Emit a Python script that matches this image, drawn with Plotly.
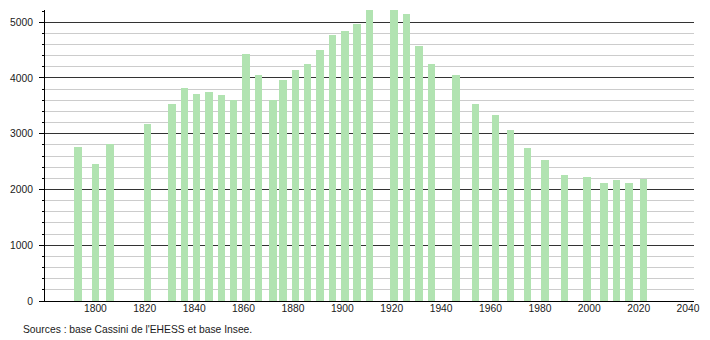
import plotly.graph_objects as go

years = [1793, 1800, 1806, 1821, 1831, 1836, 1841, 1846, 1851, 1856,
         1861, 1866, 1872, 1876, 1881, 1886, 1891, 1896, 1901, 1906,
         1911, 1921, 1926, 1931, 1936, 1946, 1954, 1962, 1968, 1975,
         1982, 1990, 1999, 2006, 2011, 2016, 2022]
population = [2760, 2450, 2810, 3170, 3530, 3815, 3710, 3745, 3690, 3600,
              4425, 4050, 3600, 3960, 4140, 4250, 4500, 4770, 4840, 4965,
              5300, 5320, 5145, 4570, 4250, 4050, 3530, 3330, 3065, 2740,
              2525, 2255, 2220, 2115, 2165, 2115, 2185]
x_ticks = list(range(1800, 2041, 20))
y_ticks = [0, 1000, 2000, 3000, 4000, 5000]
source_text = "Sources : base Cassini de l'EHESS et base Insee."

fig = go.Figure()
fig.add_trace(go.Bar(
    x=years, y=population, width=3,
    marker=dict(color="#b1e3b1", line=dict(width=0)),
    hoverinfo="x+y",
))

fig.update_layout(
    width=710, height=340,
    margin=dict(l=44, r=10, t=10, b=39),
    paper_bgcolor="white", plot_bgcolor="white",
    font=dict(family="Liberation Sans, Arial, sans-serif", size=10.3, color="#1a1a1a"),
    showlegend=False,
    bargap=0,
    xaxis=dict(
        range=[1779.6, 2042.4],
        tickvals=x_ticks,
        ticktext=[str(v) for v in x_ticks],
        showgrid=False, zeroline=False,
        showline=True, linecolor="#000", linewidth=1,
        ticks="", fixedrange=True,
        ticklabelstandoff=-2,
    ),
    yaxis=dict(
        range=[0, 5218],
        tickvals=y_ticks,
        ticktext=[str(v) for v in y_ticks],
        showgrid=True, gridcolor="#333", gridwidth=1,
        zeroline=False,
        showline=True, linecolor="#000", linewidth=1,
        ticks="outside", ticklen=5, tickcolor="#000", tickwidth=1,
        ticklabelstandoff=4,
        minor=dict(dtick=200, tick0=0, showgrid=True, gridcolor="#cccccc",
                   gridwidth=1, ticks="outside", ticklen=2, tickcolor="#000"),
        fixedrange=True,
    ),
)

fig.add_annotation(
    text=source_text, xref="paper", yref="paper",
    x=(20 - 44) / 656, y=(300.7 - 329.5) / 290.7,
    xanchor="left", yanchor="middle", showarrow=False,
    font=dict(family="Liberation Sans, Arial, sans-serif", size=10.3, color="#1a1a1a"),
)

fig.write_html("out.html")
